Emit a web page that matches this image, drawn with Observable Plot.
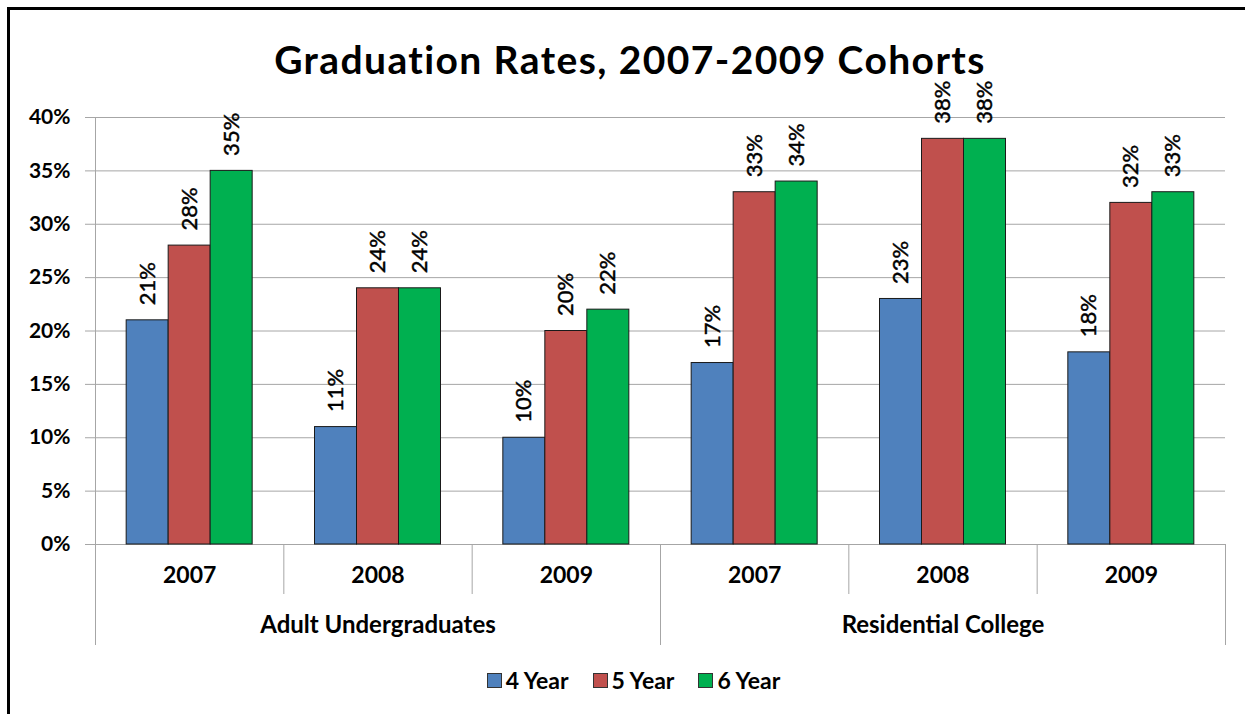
<!DOCTYPE html>
<html><head><meta charset="utf-8">
<script src="https://cdn.jsdelivr.net/npm/d3@7"></script>
<script src="https://cdn.jsdelivr.net/npm/@observablehq/plot@0.6"></script>
<style>
html,body{margin:0;padding:0;background:#fff;overflow:hidden;}
#wrap{position:relative;width:1245px;height:714px;overflow:hidden;font-family:Lato,"Open Sans",sans-serif;color:#000;background:#fff;}
#border{position:absolute;left:7px;top:7px;width:1400px;height:900px;border-left:3px solid #000;border-top:3px solid #000;z-index:5;pointer-events:none;}
#title{position:absolute;left:0;top:41px;width:1260px;text-align:center;font-size:39px;letter-spacing:1.4px;font-weight:bold;line-height:36px;}
#chart{position:absolute;left:0;top:100px;}
#chart svg{overflow:visible;}
#legend{position:absolute;left:0;top:666px;width:1267px;display:flex;justify-content:center;gap:24px;font-size:23px;font-weight:bold;line-height:28px;}
#legend .item{display:flex;align-items:center;}
#legend .sw{display:inline-block;width:13px;height:13px;border:1px solid #333;margin-right:4px;}
</style>
</head><body>
<div id="wrap">
  <div id="border"></div>
  <div id="title">Graduation Rates, 2007-2009 Cohorts</div>
  <div id="chart"></div>
  <div id="legend"></div>
</div>
<script>
const categories = ["2007","2008","2009","2007","2008","2009"];
const groups = ["Adult Undergraduates","Adult Undergraduates","Adult Undergraduates","Residential College","Residential College","Residential College"];
const seriesNames = ["4 Year","5 Year","6 Year"];
const fourYear = [21,11,10,17,23,18];
const fiveYear = [28,24,20,33,38,32];
const sixYear  = [35,24,22,34,38,33];
const yTicks = [0,5,10,15,20,25,30,35,40];
const colors = ["#4F81BD","#C0504D","#00B050"];

const barFrac = 0.223; // bar width as share of a category slot
const bars = [];
[fourYear, fiveYear, sixYear].forEach((vals, j) => vals.forEach((v, i) => bars.push({
  i, series: seriesNames[j], value: v,
  x1: i + 0.5 + (j - 1.5) * barFrac,
  x2: i + 0.5 + (j - 0.5) * barFrac
})));
const groupNames = Array.from(new Set(groups));
const groupCenters = groupNames.map(g => d3.mean(groups.map((d, i) => d === g ? i : null).filter(d => d !== null)) + 0.5);
const yearBounds = d3.range(1, categories.length).filter(i => groups[i] === groups[i - 1]);
const groupBounds = d3.range(0, categories.length + 1).filter(i => i === 0 || i === categories.length || groups[i] !== groups[i - 1]);

const chart = Plot.plot({
  width: 1245, height: 555,
  marginLeft: 95, marginRight: 20, marginTop: 17, marginBottom: 111,
  x: {domain: [0, categories.length], axis: null},
  y: {domain: [0, 40], axis: null, label: null},
  color: {domain: seriesNames, range: colors},
  style: {fontFamily: "Lato, 'Open Sans', sans-serif", background: "transparent", color: "#000", overflow: "visible"},
  marks: [
    Plot.gridY(yTicks, {stroke: "#a6a6a6", strokeOpacity: 1}),
    Plot.axisY(yTicks, {tickSize: 10, tickPadding: 15, tickFormat: d => d + "%", stroke: "#a6a6a6", fill: "#000", fontSize: 21, fontWeight: "bold", label: null}),
    Plot.ruleX([0], {stroke: "#a6a6a6"}),
    Plot.rectY(bars, {x1: "x1", x2: "x2", y: "value", fill: "series", stroke: "#1a1a1a", strokeWidth: 1}),
    Plot.text(bars, {x: d => (d.x1 + d.x2) / 2, y: "value", text: d => d.value + "%", rotate: -90, textAnchor: "start", dy: -15, fontSize: 22, fill: "#000", stroke: "#000", strokeWidth: 0.45}),
    Plot.ruleX(yearBounds, {x: d => d, y1: 0, y2: 0, insetBottom: -50, stroke: "#a6a6a6"}),
    Plot.ruleX(groupBounds, {x: d => d, y1: 0, y2: 0, insetBottom: -101, stroke: "#a6a6a6"}),
    Plot.text(categories, {x: (d, i) => i + 0.5, frameAnchor: "bottom", dy: 38, text: d => d, fontSize: 23, fontWeight: "bold", fill: "#000"}),
    Plot.text(groupNames, {x: (d, i) => groupCenters[i], frameAnchor: "bottom", dy: 88, text: d => d, fontSize: 24, fontWeight: "bold", fill: "#000"})
  ]
});
document.getElementById("chart").appendChild(chart);

const legend = document.getElementById("legend");
seriesNames.forEach((s, j) => {
  const item = document.createElement("div");
  item.className = "item";
  const sw = document.createElement("span");
  sw.className = "sw";
  sw.style.background = colors[j];
  item.appendChild(sw);
  item.appendChild(document.createTextNode(s));
  legend.appendChild(item);
});
</script>
</body></html>
